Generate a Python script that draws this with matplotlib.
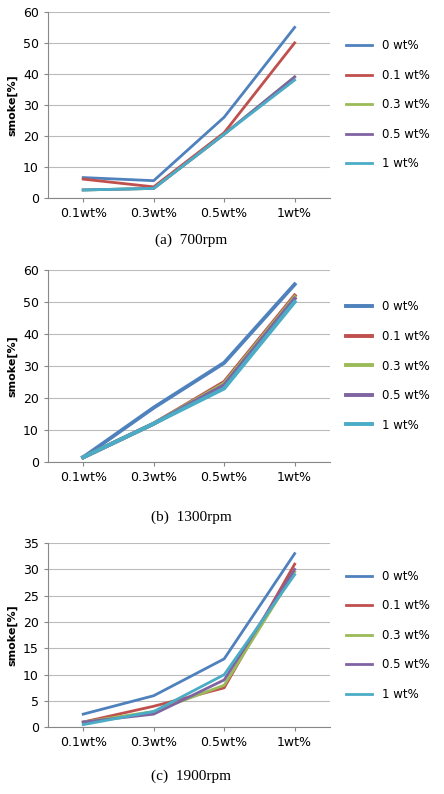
import matplotlib
matplotlib.use("Agg")
import matplotlib.pyplot as plt

categories = ["0.1wt%", "0.3wt%", "0.5wt%", "1wt%"]
series = ["0 wt%", "0.1 wt%", "0.3 wt%", "0.5 wt%", "1 wt%"]
colors = ["#4F81BD", "#C0504D", "#9BBB59", "#8064A2", "#4BACC6"]

a_vals = [[6.5, 5.5, 26, 55], [6, 3.5, 21, 50], [2.5, 3, 20.5, 39], [2.5, 3, 20.5, 39], [2.5, 3, 20.5, 38]]
b_vals = [[1.5, 17, 31, 55.5], [1.5, 12, 25, 52], [1.5, 12, 24.5, 51.5], [1.5, 12, 24, 51], [1.5, 12, 23, 50]]
c_vals = [[2.5, 6, 13, 33], [1, 4, 7.5, 31], [1, 3, 8, 29.5], [1, 2.5, 9, 30], [0.5, 3, 10, 29]]

panels = [
    (a_vals, 60, 10, "(a)  700rpm", [0.108, 0.751, 0.635, 0.234], 240, 2.0),
    (b_vals, 60, 10, "(b)  1300rpm", [0.108, 0.418, 0.635, 0.242], 517, 2.8),
    (c_vals, 35, 5, "(c)  1900rpm", [0.108, 0.084, 0.635, 0.232], 776, 2.0),
]

fig = plt.figure(figsize=(4.44, 7.94), dpi=100)
for vals, ymax, step, cap, rect, capy, lw in panels:
    ax = fig.add_axes(rect)
    x = range(len(categories))
    for s, v, c in zip(series, vals, colors):
        ax.plot(x, v, color=c, lw=lw, label=s)
    ax.set_ylim(0, ymax)
    ax.set_yticks(range(0, ymax + 1, step))
    ax.set_xlim(-0.5, 3.5)
    ax.set_xticks(list(x))
    ax.set_xticklabels(categories)
    ax.grid(axis="y", color="#BBBBBB", lw=0.8)
    ax.set_axisbelow(True)
    for sp in ["top", "right"]:
        ax.spines[sp].set_visible(False)
    for sp in ["left", "bottom"]:
        ax.spines[sp].set_color("#888888")
    ax.tick_params(labelsize=9, length=3, color="#888888")
    ax.set_ylabel("smoke[%]", fontsize=8, fontweight="bold")
    ax.legend(loc="center left", bbox_to_anchor=(1.02, 0.5), frameon=False,
              fontsize=8.5, handlelength=2.2, labelspacing=1.4)
    fig.text(0.43, 1 - capy / 794, cap, ha="center", va="center",
             fontsize=11, family="Liberation Serif")
fig.savefig("out.png", dpi=100)
